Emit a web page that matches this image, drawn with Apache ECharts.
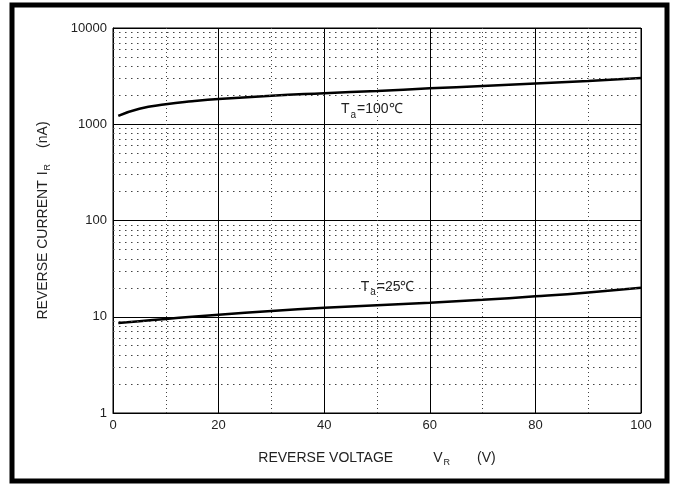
<!DOCTYPE html>
<html>
<head>
<meta charset="utf-8">
<script src="https://cdn.jsdelivr.net/npm/echarts@6/dist/echarts.min.js"></script>
<style>
  html, body { margin: 0; padding: 0; background: #fff; }
  #chart { width: 673px; height: 485px; }
</style>
</head>
<body>
<div id="chart"></div>
<script>
// reverse voltage (V)
var volts = [1, 5, 10, 15, 20, 30, 40, 50, 60, 70, 80, 90, 100];
// reverse current (nA)
var ir100 = [1220, 1450, 1610, 1730, 1830, 1980, 2100, 2220, 2360, 2500, 2650, 2820, 3020];
var ir25 = [8.6, 9.0, 9.5, 10.0, 10.5, 11.5, 12.4, 13.2, 14.0, 15.0, 16.3, 17.9, 20.0];
var yTicks = [1, 10, 100, 1000, 10000];
var xTicks = [0, 20, 40, 60, 80, 100];
var minorSteps = [2, 3, 4, 5, 6, 7, 8, 9];

var myChart = echarts.init(document.getElementById('chart'));

// dotted minor grid of the log axis (2..9 in every decade)
var minorLines = [];
yTicks.slice(0, -1).forEach(function(d) {
	minorSteps.forEach(function(m) {
		minorLines.push({ yAxis: d * m });
	});
});

function pairs(ys) {
	return volts.map(function(v, i) {
		return [v, ys[i]];
	});
}

var font = 'Liberation Sans, Arial, sans-serif';
var subRich = {
	t: { fontSize: 14, fontFamily: font, color: '#222' },
	n: { fontSize: 14, fontFamily: font, color: '#222' },
	s: { fontSize: 9, fontFamily: font, color: '#222', padding: [9, 1, 0, 1] },
	a: { fontSize: 10, fontFamily: font, color: '#222', padding: [12, 1, 0, 1] },
	g1: { width: 40 },
	g2: { width: 26 },
	h1: { width: 5 },
	h2: { width: 15 }
};

function tag(text, coord) {
	return {
		coord: coord,
		symbol: 'circle',
		symbolSize: 1,
		itemStyle: { color: 'rgba(0,0,0,0)' },
		label: {
			show: true,
			position: 'inside',
			formatter: text,
			rich: subRich
		}
	};
}

option = {
	animation: false,
	grid: {
		left: 113,
		right: 32,
		top: 28,
		bottom: 72,
		show: true,
		borderColor: '#000',
		borderWidth: 1
	},
	graphic: [{
		type: 'rect',
		shape: { x: 12, y: 5, width: 655, height: 476 },
		style: { fill: 'none', stroke: '#000', lineWidth: 5 },
		silent: true
	}],
	xAxis: {
		type: 'value',
		min: xTicks[0],
		max: xTicks[xTicks.length - 1],
		interval: 20,
		name: '{n|REVERSE VOLTAGE}{g1|}{n|V}{s|R}{g2|}{n|(V)}',
		nameLocation: 'middle',
		nameGap: 36,
		nameTextStyle: { rich: subRich },
		axisLine: { lineStyle: { color: '#000', width: 1 } },
		axisTick: { show: false },
		axisLabel: { color: '#222', fontSize: 13, fontFamily: font, margin: 6 },
		splitLine: { lineStyle: { color: '#000', width: 1 } },
		minorTick: { show: false, splitNumber: 2 },
		minorSplitLine: { show: true, lineStyle: { color: '#444', width: 1, type: [1, 3] } }
	},
	yAxis: {
		type: 'log',
		logBase: 10,
		min: yTicks[0],
		max: yTicks[yTicks.length - 1],
		name: '{n|REVERSE CURRENT}{h1|}{n|I}{s|R}{h2|}{n|(nA)}',
		nameLocation: 'middle',
		nameRotate: 90,
		nameGap: 61,
		nameTextStyle: { rich: subRich },
		axisLine: { lineStyle: { color: '#000', width: 1 } },
		axisTick: { show: false },
		axisLabel: {
			color: '#222', fontSize: 13, fontFamily: font, margin: 6,
			formatter: function(v) { return String(v); }
		},
		splitLine: { lineStyle: { color: '#000', width: 1 } }
	},
	series: [{
		type: 'line',
		data: pairs(ir100),
		smooth: true,
		showSymbol: false,
		lineStyle: { color: '#000', width: 2.5 },
		markLine: {
			silent: true,
			symbol: 'none',
			label: { show: false },
			lineStyle: { color: '#444', width: 1, type: [1.5, 4.5] },
			data: minorLines
		},
		markPoint: {
			silent: true,
			data: [tag('{t|T}{a|a}{t|=100℃}', [49, 1420])]
		}
	}, {
		type: 'line',
		data: pairs(ir25),
		smooth: true,
		showSymbol: false,
		lineStyle: { color: '#000', width: 2.5 },
		markPoint: {
			silent: true,
			data: [tag('{t|T}{a|a}{t|=25℃}', [52, 20.5])]
		}
	}]
};

myChart.setOption(option);
</script>
</body>
</html>
